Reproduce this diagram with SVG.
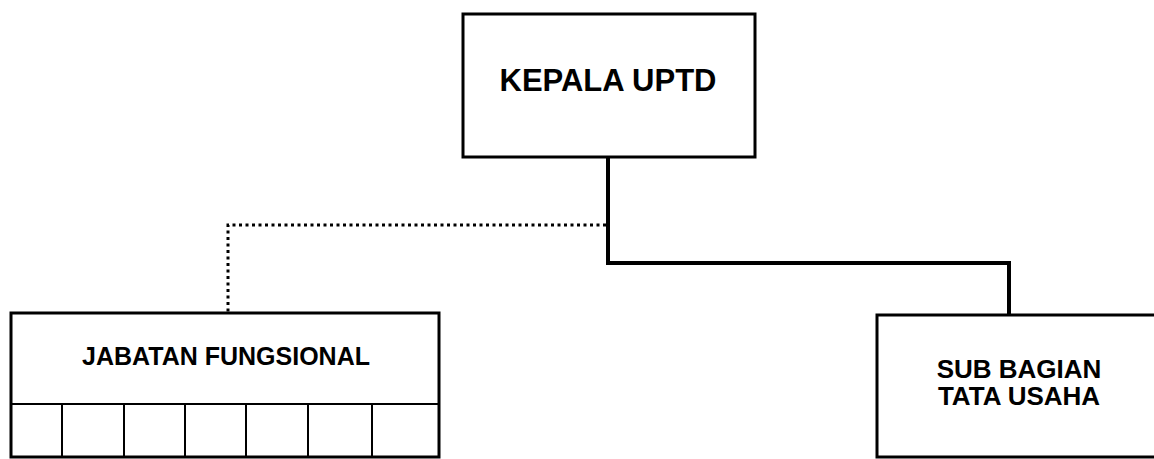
<svg xmlns="http://www.w3.org/2000/svg" width="1154" height="459" viewBox="0 0 1154 459">
<style>
.box{fill:#fff;stroke:#000;stroke-width:3}
.cell{stroke:#000;stroke-width:2;fill:none}
.t{font-family:"Liberation Sans",Arial,sans-serif;font-weight:bold;fill:#000;text-anchor:middle}
.solid{fill:none;stroke:#000;stroke-width:4;stroke-linejoin:miter}
.dot{fill:none;stroke:#000;stroke-width:3;stroke-dasharray:3 3.5}
</style>
<rect width="1154" height="459" fill="#fff"/>
<g id="connectors">
<path class="solid" d="M608,158 V263 H1009 V315"/>
<path class="dot" d="M606,225 H228 V313"/>
</g>
<g id="kepala">
<rect class="box" x="463" y="14" width="292" height="143"/>
<text class="t" x="608" y="91" font-size="31">KEPALA UPTD</text>
</g>
<g id="jabatan">
<rect class="box" x="11" y="313" width="428" height="144"/>
<line class="cell" x1="11" y1="404" x2="439" y2="404"/>
<line class="cell" x1="62" y1="404" x2="62" y2="457"/>
<line class="cell" x1="124" y1="404" x2="124" y2="457"/>
<line class="cell" x1="185" y1="404" x2="185" y2="457"/>
<line class="cell" x1="246" y1="404" x2="246" y2="457"/>
<line class="cell" x1="308" y1="404" x2="308" y2="457"/>
<line class="cell" x1="372" y1="404" x2="372" y2="457"/>
<text class="t" x="226" y="365" font-size="25">JABATAN FUNGSIONAL</text>
</g>
<g id="subbagian">
<rect class="box" x="877" y="315" width="290" height="142"/>
<text class="t" x="1019" y="378" font-size="26">SUB BAGIAN</text>
<text class="t" x="1019" y="405" font-size="26">TATA USAHA</text>
</g>
</svg>
